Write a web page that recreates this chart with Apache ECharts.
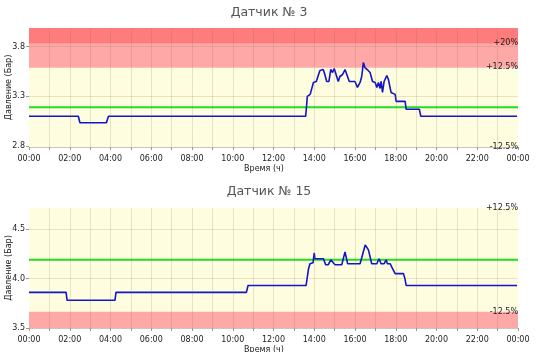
<!DOCTYPE html>
<html>
<head>
<meta charset="utf-8">
<script src="https://cdn.jsdelivr.net/npm/echarts@6/dist/echarts.min.js"></script>
<style>
html,body{margin:0;padding:0;background:#fff;}
#chart{width:540px;height:352px;}
</style>
</head>
<body>
<div id="chart"></div>
<script>
// ---- data ----
var titles = ['Датчик № 3', 'Датчик № 15'];
var timeLabels = ['00:00','02:00','04:00','06:00','08:00','10:00','12:00','14:00','16:00','18:00','20:00','22:00','00:00'];
var hourGrid = [1,2,3,4,5,6,7,8,9,10,11,12,13,14,15,16,17,18,19,20,21,22,23];
var yTicks1 = [2.8, 3.3, 3.8];
var yTicks2 = [3.5, 4.0, 4.5];
var nominal1 = 3.19;
var nominal2 = 4.19;
// time (h), pressure (bar)
var times1 = [0,2.42,2.5,3.8,3.9,13.58,13.66,13.8,13.96,14.1,14.18,14.28,14.36,14.44,14.52,14.61,14.72,14.81,14.9,14.98,15.07,15.18,15.26,15.39,15.51,15.59,15.72,16.0,16.12,16.25,16.33,16.41,16.49,16.6,16.74,16.86,16.99,17.07,17.15,17.23,17.28,17.35,17.43,17.56,17.64,17.77,17.97,18.02,18.46,18.51,19.16,19.23,23.95];
var values1 = [3.10,3.10,3.035,3.035,3.10,3.10,3.30,3.32,3.44,3.45,3.50,3.56,3.54,3.57,3.52,3.45,3.45,3.57,3.54,3.58,3.52,3.45,3.50,3.52,3.57,3.55,3.45,3.45,3.39,3.44,3.50,3.64,3.59,3.57,3.54,3.45,3.44,3.39,3.44,3.38,3.45,3.34,3.45,3.51,3.47,3.34,3.32,3.25,3.25,3.17,3.17,3.10,3.10];
var times2 = [0,1.82,1.87,4.22,4.27,10.67,10.75,13.6,13.72,13.79,13.94,14.0,14.03,14.45,14.56,14.69,14.81,14.89,15.02,15.35,15.51,15.64,16.25,16.5,16.66,16.82,17.07,17.18,17.28,17.43,17.53,17.59,17.72,17.97,18.38,18.46,18.51,23.95];
var values2 = [3.86,3.86,3.78,3.78,3.86,3.86,3.93,3.93,4.10,4.15,4.16,4.26,4.20,4.20,4.14,4.14,4.19,4.19,4.14,4.14,4.27,4.15,4.15,4.34,4.29,4.15,4.15,4.20,4.15,4.15,4.19,4.15,4.15,4.05,4.05,3.99,3.93,3.93];

var FONT = 'DejaVu Sans';
var GRIDC = 'rgba(120,110,60,0.18)';
function zip(t, v){ return t.map(function(x,i){ return [x, v[i]]; }); }

function xAxisCfg(gi){
  return {
    gridIndex: gi, type: 'value', min: 0, max: 24, interval: 1,
    name: 'Время (ч)', nameLocation: 'middle', nameGap: 18, nameMoveOverlap: false,
    nameTextStyle: {fontFamily: FONT, fontSize: 8, color: '#222', padding: [0, 19, 0, 0]},
    axisLine: {show: true, lineStyle: {color: '#c8c8b8', width: 1}},
    axisTick: {show: true, length: 3, lineStyle: {color: '#999'}},
    axisLabel: {fontFamily: FONT, fontSize: 8, color: '#222', margin: 8,
      formatter: function(v){ return (v % 2 === 0) ? timeLabels[v/2] : ''; }},
    splitLine: {show: false}
  };
}
function yAxisCfg(gi, mn, mx, ticks){
  return {
    gridIndex: gi, type: 'value', min: mn, max: mx,
    name: 'Давление (Бар)', nameLocation: 'middle', nameGap: 16, nameRotate: 90, nameMoveOverlap: false,
    nameTextStyle: {fontFamily: FONT, fontSize: 8, color: '#222'},
    axisLine: {show: false},
    axisTick: {show: true, length: 3, customValues: ticks, lineStyle: {color: '#999'}},
    axisLabel: {fontFamily: FONT, fontSize: 8, color: '#222', margin: 4, customValues: ticks,
      formatter: function(v){ return v.toFixed(1); }},
    splitLine: {show: false}
  };
}
function pctLabel(val, txt, dy){
  return {coord: [24, val], value: txt, symbolSize: 0,
    label: {show: true, position: 'left', distance: 0, offset: [0, dy], formatter: txt,
      fontFamily: FONT, fontSize: 8, color: '#222'}};
}
function bandSeries(gi, areas, grid, labels){
  var lines = grid.map(function(v){ return {yAxis: v}; })
    .concat(hourGrid.map(function(h){ return {xAxis: h}; }));
  return {
    type: 'line', xAxisIndex: gi, yAxisIndex: gi, data: [], silent: true,
    markArea: {silent: true, data: areas},
    markLine: {silent: true, symbol: 'none', label: {show: false},
      lineStyle: {color: GRIDC, width: 1, type: 'solid'}, data: lines},
    markPoint: {silent: true, data: labels}
  };
}
function area(a, b, c){ return [{yAxis: a, itemStyle: {color: c}}, {yAxis: b}]; }

var min1 = nominal1 * 0.875, max1 = nominal1 * 1.25;
var min2 = 3.5, max2 = nominal2 * 1.125;

var option = {
  animation: false,
  backgroundColor: '#fff',
  title: [
    {text: titles[0], left: 264, top: 1, textAlign: 'center',
     textStyle: {fontFamily: FONT, fontSize: 12.5, fontWeight: 'normal', color: '#555'}},
    {text: titles[1], left: 264, top: 180, textAlign: 'center',
     textStyle: {fontFamily: FONT, fontSize: 12.5, fontWeight: 'normal', color: '#555'}}
  ],
  grid: [
    {left: 29, right: 22, top: 28, height: 119, outerBoundsMode: 'none', containLabel: false},
    {left: 29, right: 22, top: 208, height: 120, outerBoundsMode: 'none', containLabel: false}
  ],
  xAxis: [xAxisCfg(0), xAxisCfg(1)],
  yAxis: [yAxisCfg(0, min1, max1, yTicks1), yAxisCfg(1, min2, max2, yTicks2)],
  series: [
    bandSeries(0, [
      area(min1, nominal1*1.125, '#fffde0'),
      area(nominal1*1.125, nominal1*1.2, '#ffa8a8'),
      area(nominal1*1.2, max1, '#ff7c7c')
    ], [3.3, 3.8], [
      pctLabel(nominal1*1.2, '+20%', -1),
      pctLabel(nominal1*1.125, '+12.5%', -1),
      pctLabel(min1, '-12.5%', 0)
    ]),
    bandSeries(1, [
      area(min2, nominal2*0.875, '#ffa8a8'),
      area(nominal2*0.875, max2, '#fffde0')
    ], [4.0, 4.5], [
      pctLabel(max2, '+12.5%', 0),
      pctLabel(nominal2*0.875, '-12.5%', 0)
    ]),
    {type: 'line', xAxisIndex: 0, yAxisIndex: 0, symbol: 'none', silent: true,
     data: [[0, nominal1], [24, nominal1]], lineStyle: {color: '#22dd22', width: 2}},
    {type: 'line', xAxisIndex: 1, yAxisIndex: 1, symbol: 'none', silent: true,
     data: [[0, nominal2], [24, nominal2]], lineStyle: {color: '#22dd22', width: 2}},
    {type: 'line', xAxisIndex: 0, yAxisIndex: 0, symbol: 'none', silent: true,
     data: zip(times1, values1), lineStyle: {color: '#1414c8', width: 1.6}},
    {type: 'line', xAxisIndex: 1, yAxisIndex: 1, symbol: 'none', silent: true,
     data: zip(times2, values2), lineStyle: {color: '#1414c8', width: 1.6}}
  ]
};
var chart = echarts.init(document.getElementById('chart'), null, {renderer: 'canvas'});
chart.setOption(option);
</script>
</body>
</html>
